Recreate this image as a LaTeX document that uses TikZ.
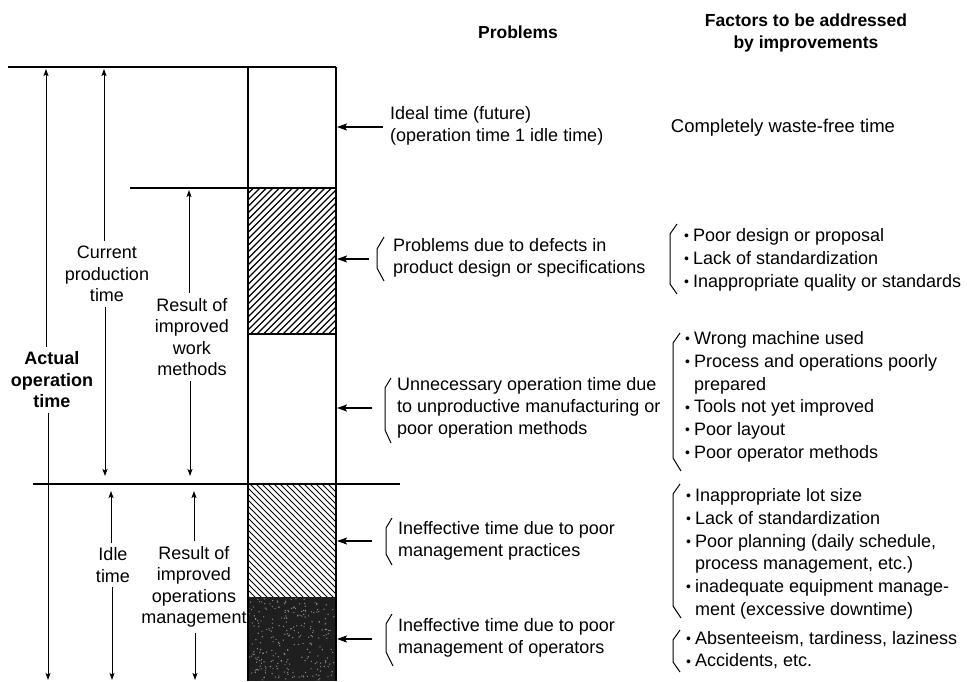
\documentclass[tikz,border=0pt]{standalone}
\usepackage{fontspec}
\setmainfont{Liberation Sans}
\usetikzlibrary{arrows.meta}
\newcommand{\bul}{\raisebox{0.05em}{\fontsize{14}{14}\selectfont\textbullet}}
\begin{document}
\begin{tikzpicture}[x=1pt,y=-1pt,
  lbl/.style={font=\fontsize{18}{21.5}\selectfont, align=center, inner sep=0pt, outer sep=5pt},
  lblb/.style={font=\bfseries\fontsize{18}{21.5}\selectfont, align=center, inner sep=0pt, outer sep=5pt},
  hdr/.style={font=\bfseries\fontsize{17.5}{22}\selectfont, align=center, inner sep=0pt},
  txt/.style={font=\fontsize{18}{22}\selectfont, align=left, inner sep=0pt, anchor=west},
  lst/.style={font=\fontsize{18}{22.8}\selectfont, inner sep=0pt, anchor=west},
  dim/.style={line width=1pt, -{Stealth[length=7pt,width=5pt,inset=1.5pt]}},
  ptr/.style={line width=1.1pt, -{Stealth[length=10pt,width=7pt,inset=2pt]}},
  brc/.style={line width=1pt},
  rule/.style={line width=1.3pt},
  hatch/.style={line width=1.1pt}]
\useasboundingbox (0,0) rectangle (967,681);

% ---- column fills ----
\begin{scope}
  \clip (248,188) rectangle (336,334);
  \foreach \i in {-160,-153.5,...,100} \draw[hatch] (248+\i,334) -- ++(160,-160);
\end{scope}
\begin{scope}
  \clip (248,484) rectangle (336,597);
  \foreach \i in {-130,-124,...,100} \draw[line width=1pt] (248+\i,484) -- ++(130,130);
\end{scope}
\fill[black!88] (248,597) rectangle (336,681);
\pgfmathsetseed{7}
\foreach \k in {1,...,260} {
  \pgfmathsetmacro\px{249+86*rnd}
  \pgfmathsetmacro\py{598+82*rnd}
  \fill[black!45] (\px,\py) circle (0.7);
}

% ---- column and rules ----
\draw[rule] (8,67) -- (336,67);
\draw[rule] (248,67) -- (248,681);
\draw[rule] (336,67) -- (336,681);
\draw[rule] (130,188) -- (336,188);
\draw[rule] (248,334) -- (336,334);
\draw[rule] (33,484) -- (400,484);

% ---- headers ----
\node[hdr] (hp) at (518,32) {Problems};
\node[hdr] (hf) at (806,33) {Factors to be addressed\\by improvements};

% ---- left labels ----
\node[lblb] (aot) at (52,380) {Actual\\operation\\time};
\node[lbl] (cpt) at (107,274) {Current\\production\\time};
\node[lbl] (riw) at (192,337) {Result of\\improved\\work\\methods};
\node[lbl] (idl) at (113,565) {Idle\\time};
\node[lbl] (rom) at (194,587) {Result of\\improved\\operations\\management};

\coordinate (aT) at (46,69);   \coordinate (aB) at (48,680);
\coordinate (cT) at (104,69);  \coordinate (cB) at (105,476);
\coordinate (rT) at (189,190); \coordinate (rB) at (190,476);
\coordinate (iT) at (111,491); \coordinate (iB) at (112,680);
\coordinate (oT) at (194,491); \coordinate (oB) at (195,680);

\draw[dim] (aot.north -| aT) -- (aT);
\draw[dim] (aot.south -| aB) -- (aB);
\draw[dim] (cpt.north -| cT) -- (cT);
\draw[dim] (cpt.south -| cB) -- (cB);
\draw[dim] (riw.north -| rT) -- (rT);
\draw[dim] (riw.south -| rB) -- (rB);
\draw[dim] (idl.north -| iT) -- (iT);
\draw[dim] (idl.south -| iB) -- (iB);
\draw[dim] (rom.north -| oT) -- (oT);
\draw[dim] (rom.south -| oB) -- (oB);

% ---- problems column ----
\node[txt] (p0) at (390,126) {Ideal time (future)\\(operation time 1 idle time)};
\node[txt] (p1) at (393,258) {Problems due to defects in\\product design or specifications};
\node[txt] (p2) at (397,408) {Unnecessary operation time due\\to unproductive manufacturing or\\poor operation methods};
\node[txt] (p3) at (398,541) {Ineffective time due to poor\\management practices};
\node[txt] (p4) at (398,638) {Ineffective time due to poor\\management of operators};

\coordinate (s0) at (383,127); \coordinate (e0) at (337,127);
\coordinate (s1) at (369,259); \coordinate (e1) at (337,259);
\coordinate (s2) at (372,408); \coordinate (e2) at (337,408);
\coordinate (s3) at (372,541); \coordinate (e3) at (337,541);
\coordinate (s4) at (372,639); \coordinate (e4) at (337,639);
\draw[ptr] (s0) -- (e0);
\draw[ptr] (s1) -- (e1);
\draw[ptr] (s2) -- (e2);
\draw[ptr] (s3) -- (e3);
\draw[ptr] (s4) -- (e4);

% braces of problems
\draw[brc] (384,237) -- (377,249) -- (377,268) -- (384,281);
\draw[brc] (391,378) -- (385,388) -- (385,430) -- (391,443);
\draw[brc] (392,518) -- (386,528) -- (386,554) -- (392,565);
\draw[brc] (392,614) -- (386,624) -- (386,652) -- (393,666);

% ---- factors column ----
\node[font=\fontsize{18.5}{22}\selectfont, inner sep=0pt] (f0) at (783,128) {Completely waste-free time};

\node[lst] (f1) at (684,260) {\begin{tabular}{@{}l@{\hspace{4pt}}l@{}}
\bul & Poor design or proposal\\
\bul & Lack of standardization\\
\bul & Inappropriate quality or standards
\end{tabular}};
\node[lst] (f2) at (685,397) {\begin{tabular}{@{}l@{\hspace{4pt}}l@{}}
\bul & Wrong machine used\\
\bul & Process and operations poorly\\
     & prepared\\
\bul & Tools not yet improved\\
\bul & Poor layout\\
\bul & Poor operator methods
\end{tabular}};
\node[lst] (f3) at (686,554) {\begin{tabular}{@{}l@{\hspace{4pt}}l@{}}
\bul & Inappropriate lot size\\
\bul & Lack of standardization\\
\bul & Poor planning (daily schedule,\\
     & process management, etc.)\\
\bul & inadequate equipment manage-\\
     & ment (excessive downtime)
\end{tabular}};
\node[lst] (f4) at (686,651) {\begin{tabular}{@{}l@{\hspace{4pt}}l@{}}
\bul & Absenteeism, tardiness, laziness\\
\bul & Accidents, etc.
\end{tabular}};

% braces of factors
\draw[brc] (677,224) -- (670,234) -- (670,284) -- (677,294);
\draw[brc] (680,333) -- (673,343) -- (673,458) -- (681,471);
\draw[brc] (680,484) -- (673,494) -- (673,606) -- (681,618);
\draw[brc] (680,630) -- (673,640) -- (673,662) -- (680,672);
\end{tikzpicture}
\end{document}
